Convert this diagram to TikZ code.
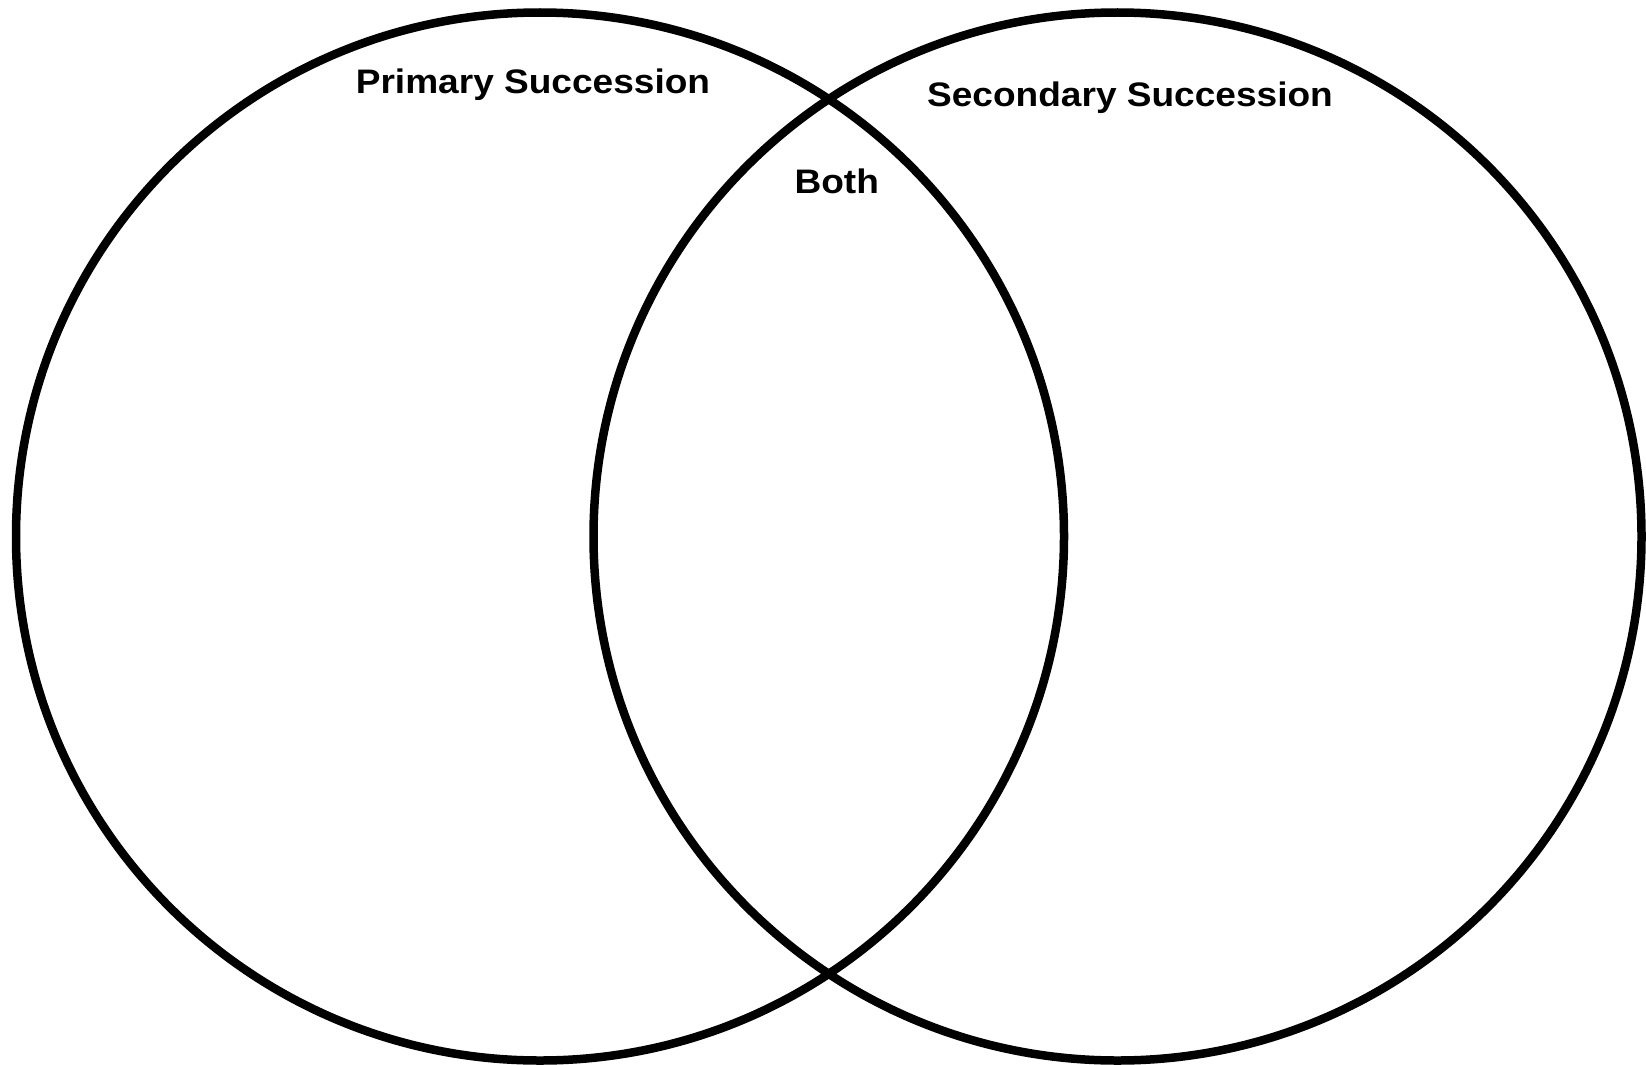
\documentclass[tikz,border=0pt]{standalone}
\usepackage{fontspec}
\setmainfont{Liberation Sans}
\begin{document}
\begin{tikzpicture}[x=1pt,y=-1pt,
  ring/.style={draw=black, circle, inner sep=0pt, minimum size=1048pt, line width=8.5pt},
  label/.style={anchor=base, inner sep=0pt, xscale=1.09, font=\fontsize{34}{40}\selectfont\bfseries}]
\useasboundingbox[fill=white] (0,0) rectangle (1646,1065);
\node[ring] (leftc) at (540,536.5) {};
\node[ring] (rightc) at (1117.5,536.5) {};
\node[label] (prim) at (533,93) {Primary Succession};
\node[label] (sec) at (1130,106) {Secondary Succession};
\node[label] (both) at (836.7,193) {Both};
\end{tikzpicture}
\end{document}
